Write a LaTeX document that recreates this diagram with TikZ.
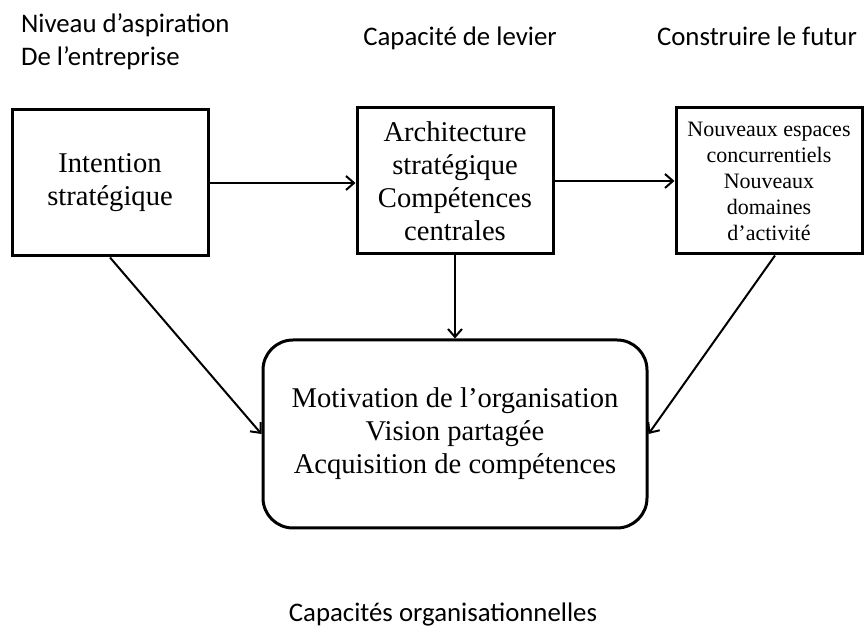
\documentclass[tikz,border=0pt]{standalone}
\usepackage{fontspec}
\usepackage{tikz}
\usetikzlibrary{arrows.meta}
\usetikzlibrary{positioning}
\setmainfont{Liberation Serif}
\newfontfamily\labelfont{Carlito}
\tikzset{box/.style = {draw, line width = 1.5pt, align = center, inner sep = 2pt,
    minimum width = 98pt, minimum height = 73pt, font = \fontsize{14.3}{16.5}\selectfont}}
\tikzset{lbl/.style = {align = center, font = \labelfont\fontsize{13.4}{16.5}\selectfont}}
\tikzset{conn/.style = {line width = 1pt, -{Straight Barb[length = 4pt, width = 7pt]}}}

\begin{document}
\begin{tikzpicture}[x = 0.5pt, y = 0.5pt]
    \useasboundingbox (0, 0) rectangle (864, 632);

    \node [lbl, align = left, anchor = west] (aspir) at (14, 590) {Niveau d’aspiration\\De l’entreprise};
    \node [lbl] (levier) at (460, 594) {Capacité de levier};
    \node [lbl] (futurlbl) at (757, 596) {Construire le futur};
    \node [lbl] (orga) at (443, 17) {Capacités organisationnelles};

    \node [box] (intent) at (110, 449) {Intention\\stratégique};
    \node [box] (archi) at (455, 451) {Architecture\\stratégique\\Compétences\\centrales};
    \node [box, minimum width = 93pt, font = \fontsize{11}{13}\selectfont] (futur) at (769, 451)
        {Nouveaux espaces\\concurrentiels\\Nouveaux\\domaines\\d’activité};

    \node [box, rounded corners = 15pt, minimum width = 192pt, minimum height = 94pt] (motiv) at (455, 198)
        {Motivation de l’organisation\\Vision partagée\\Acquisition de compétences};

    \draw [conn] (intent.east) -- (archi.west |- intent.east);
    \draw [conn] (archi.east) -- (futur.west);
    \draw [conn] (archi.south) -- (motiv.north);
    \draw [conn] (intent.south) -- (motiv.west);
    \draw [conn] ([xshift = 3pt] futur.south) -- (motiv.east);
  \end{tikzpicture}
\end{document}
